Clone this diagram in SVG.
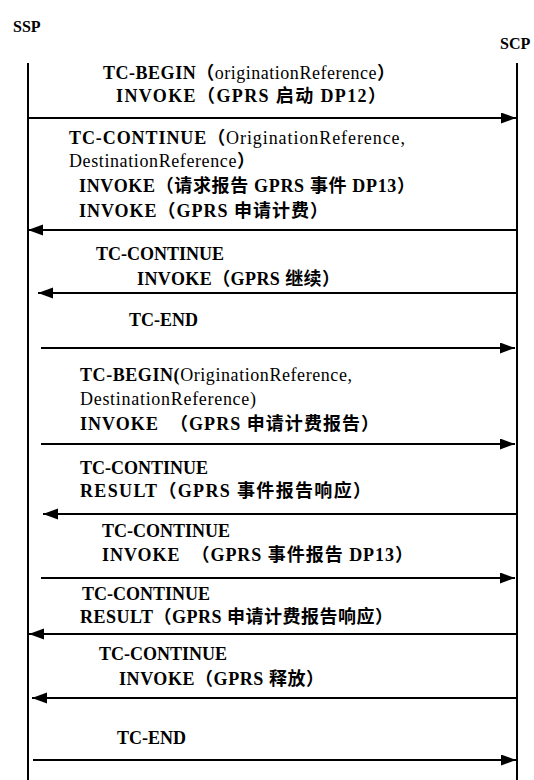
<svg xmlns="http://www.w3.org/2000/svg" width="534" height="780" viewBox="0 0 534 780">
<style>
text{font-family:"Liberation Serif","Times New Roman","Noto Sans CJK SC",serif;font-size:18px;font-weight:bold;fill:#000}
.n{font-weight:normal}
.life{stroke:#000;stroke-width:2;fill:none}
.msg{stroke:#000;stroke-width:2.2;fill:none;marker-end:url(#ah)}
.lbl{font-size:16px}
</style>
<defs>
<marker id="ah" markerUnits="userSpaceOnUse" markerWidth="16" markerHeight="12" refX="15" refY="5.5" orient="auto">
<path d="M0,0 L15,5.5 L0,11 Z" fill="#000"/>
</marker>
</defs>
<rect width="534" height="780" fill="#fff"/>
<g id="SSP">
<text class="lbl" x="13" y="32">SSP</text>
<line class="life" x1="28" y1="63" x2="28" y2="780"/>
</g>
<g id="SCP">
<text class="lbl" x="500" y="49">SCP</text>
<line class="life" x1="517" y1="63" x2="517" y2="780"/>
</g>
<g id="connectors">
<line class="msg" x1="28" y1="118" x2="516" y2="118"/>
<line class="msg" x1="516" y1="230" x2="28" y2="230"/>
<line class="msg" x1="516" y1="293" x2="38" y2="293"/>
<line class="msg" x1="41" y1="348" x2="515" y2="348"/>
<line class="msg" x1="41" y1="444" x2="515" y2="444"/>
<line class="msg" x1="516" y1="514" x2="43" y2="514"/>
<line class="msg" x1="41" y1="578" x2="515" y2="578"/>
<line class="msg" x1="516" y1="634" x2="29" y2="634"/>
<line class="msg" x1="516" y1="698" x2="32" y2="698"/>
<line class="msg" x1="33" y1="760" x2="516" y2="760"/>
</g>
<g id="labels">
<text x="103" y="79" textLength="292">TC-BEGIN（<tspan class="n">originationReference</tspan>）</text>
<text x="116" y="102" textLength="270">INVOKE（GPRS 启动 DP12）</text>
<text x="69" y="144" textLength="336">TC-CONTINUE（<tspan class="n">OriginationReference,</tspan></text>
<text x="69" y="167" textLength="186"><tspan class="n">DestinationReference</tspan>）</text>
<text x="79" y="192" textLength="336">INVOKE（请求报告 GPRS 事件 DP13）</text>
<text x="79" y="217" textLength="249">INVOKE（GPRS 申请计费）</text>
<text x="96" y="260">TC-CONTINUE</text>
<text x="137" y="285" textLength="203">INVOKE（GPRS 继续）</text>
<text x="129" y="326">TC-END</text>
<text x="80" y="381" textLength="272">TC-BEGIN(<tspan class="n">OriginationReference,</tspan></text>
<text x="80" y="405" class="n" textLength="176">DestinationReference)</text>
<text x="80" y="430" xml:space="preserve" textLength="299">INVOKE  （GPRS 申请计费报告）</text>
<text x="80" y="474">TC-CONTINUE</text>
<text x="80" y="497" textLength="291">RESULT（GPRS 事件报告响应）</text>
<text x="102" y="537">TC-CONTINUE</text>
<text x="102" y="561" xml:space="preserve" textLength="311">INVOKE  （GPRS 事件报告 DP13）</text>
<text x="82" y="600">TC-CONTINUE</text>
<text x="80" y="623" textLength="313">RESULT（GPRS 申请计费报告响应）</text>
<text x="99" y="660">TC-CONTINUE</text>
<text x="119" y="685" textLength="205">INVOKE（GPRS 释放）</text>
<text x="117" y="744">TC-END</text>
</g>
</svg>
